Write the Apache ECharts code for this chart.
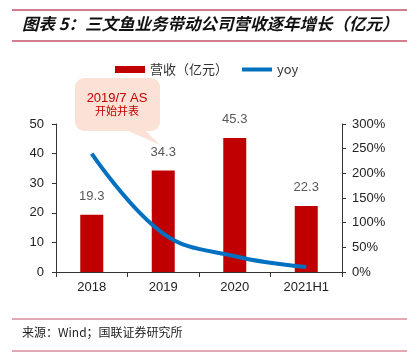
<!DOCTYPE html>
<html><head><meta charset="utf-8">
<script src="https://cdn.jsdelivr.net/npm/echarts@6/dist/echarts.min.js"></script>
<style>html,body{margin:0;padding:0;background:#fff}#c{width:407px;height:356px}</style>
</head><body><div id="c"></div>
<script>
var categories = ['2018', '2019', '2020', '2021H1'];
var revenue = [19.3, 34.3, 45.3, 22.3];
var yoy = [240, 78, 32, 10];
var leftTicks = [0, 50, 10];
var rightTicks = [0, 300, 50];
var titleText = '图表 5：三文鱼业务带动公司营收逐年增长（亿元）';
var sourceText = '来源：Wind；国联证券研究所';
var noteLines = ['2019/7 AS', '开始并表'];

var chart = echarts.init(document.getElementById('c'));
var numFont = '"Liberation Sans", Arial, sans-serif';
var cjk = '"Noto Sans CJK SC", sans-serif';
chart.setOption({
  animation: false,
  legend: {
    left: 110, top: 58, itemWidth: 30, itemHeight: 7, itemGap: 14,
    textStyle: { fontSize: 13, color: '#333', fontFamily: cjk },
    data: [{ name: '营收（亿元）', icon: 'rect' }, { name: 'yoy', icon: 'path://M0,0h30v4h-30z' }]
  },
  grid: { left: 56, right: 65, top: 124, bottom: 84 },
  xAxis: {
    type: 'category', data: categories,
    axisLine: { lineStyle: { color: '#333', width: 1 } },
    axisTick: { show: true, length: 5, lineStyle: { color: '#333' } },
    axisLabel: { fontSize: 13, color: '#222', fontFamily: numFont, margin: 9 }
  },
  yAxis: [{
    type: 'value', min: leftTicks[0], max: leftTicks[1], interval: leftTicks[2],
    axisLine: { show: true, lineStyle: { color: '#333' } },
    axisTick: { show: true, length: 4, lineStyle: { color: '#333' } },
    splitLine: { show: false },
    axisLabel: { fontSize: 13, color: '#222', fontFamily: numFont, margin: 12 }
  }, {
    type: 'value', min: rightTicks[0], max: rightTicks[1], interval: rightTicks[2],
    axisLine: { show: true, lineStyle: { color: '#333' } },
    axisTick: { show: true, length: 4, lineStyle: { color: '#333' } },
    splitLine: { show: false },
    axisLabel: { fontSize: 13, color: '#222', fontFamily: numFont, margin: 10, formatter: '{value}%' }
  }],
  series: [{
    name: '营收（亿元）', type: 'bar', data: revenue, barWidth: 23,
    itemStyle: { color: '#c00000' },
    label: { show: true, position: 'top', distance: 12, fontSize: 13, color: '#595959', fontFamily: numFont }
  }, {
    name: 'yoy', type: 'line', yAxisIndex: 1, data: yoy, smooth: 0.4,
    symbol: 'none', lineStyle: { color: '#0070c0', width: 4 }, itemStyle: { color: '#0070c0' }
  }],
  graphic: [
    { type: 'line', shape: { x1: 12, y1: 10, x2: 407, y2: 10 }, style: { stroke: '#c9506a', lineWidth: 1.5 } },
    { type: 'line', shape: { x1: 12, y1: 41, x2: 407, y2: 41 }, style: { stroke: '#c9506a', lineWidth: 1.5 } },
    { type: 'text', left: 22, top: 15, style: { text: titleText, font: 'italic bold 16.5px "Noto Sans CJK SC"', fill: '#111' } },
    { type: 'line', shape: { x1: 12, y1: 319, x2: 407, y2: 319 }, style: { stroke: '#c9506a', lineWidth: 1.2 } },
    { type: 'line', shape: { x1: 12, y1: 351, x2: 407, y2: 351 }, style: { stroke: '#c9506a', lineWidth: 1.2 } },
    { type: 'text', left: 22, top: 326, style: { text: sourceText, font: '12px "Noto Sans CJK SC"', fill: '#222' } },
    { type: 'polygon', shape: { points: [[122, 128], [143, 128], [160, 145]] }, style: { fill: '#fbe1d6' }, z: 10 },
    { type: 'rect', shape: { x: 75, y: 78, width: 85, height: 53, r: 9 }, style: { fill: '#fbe1d6' }, z: 10 },
    { type: 'text', x: 117, y: 98, style: { text: noteLines[0], font: '13px "Liberation Sans"', fill: '#c00000', align: 'center', verticalAlign: 'middle' }, z: 11 },
    { type: 'text', x: 117, y: 111, style: { text: noteLines[1], font: '11px "Noto Sans CJK SC"', fill: '#c00000', align: 'center', verticalAlign: 'middle' }, z: 11 }
  ]
});
</script></body></html>
